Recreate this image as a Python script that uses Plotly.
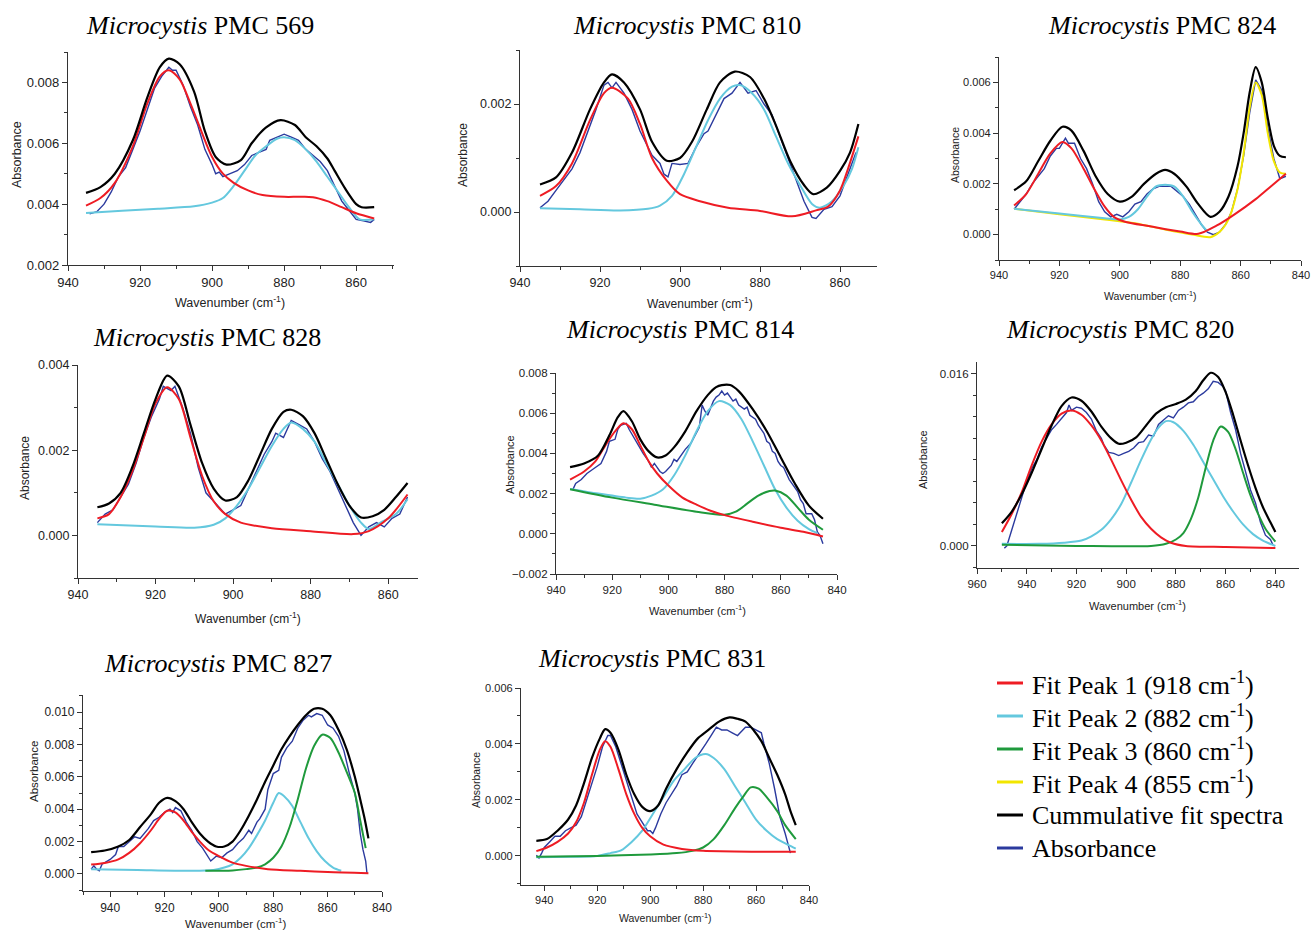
import plotly.graph_objects as go

W, H = 1312, 932

# ---------------- data: (wavenumber cm-1, absorbance) ----------------

# Microcystis PMC 569
pmc569_abs = [(934, 0.00368), (932, 0.00375), (930, 0.0040), (928, 0.0044), (926, 0.0049), (924, 0.0052),
              (922, 0.0058), (920, 0.0064), (918, 0.0071), (916, 0.0078), (914, 0.0082), (912, 0.0085),
              (911, 0.0084), (910, 0.0084), (908, 0.0079), (906, 0.0072), (904, 0.0066), (902, 0.0058),
              (900, 0.0053), (899, 0.0050), (898, 0.00505), (897, 0.0049), (895, 0.0050), (893, 0.0051),
              (891, 0.0053), (889, 0.0056), (887, 0.0057), (885, 0.0058), (884, 0.0061), (882, 0.0062),
              (880, 0.0063), (878, 0.0062), (876, 0.0061), (874, 0.0058), (872, 0.0056), (870, 0.0054),
              (868, 0.0051), (866, 0.0046), (864, 0.0041), (862, 0.0038), (860, 0.0035), (858, 0.00345),
              (856, 0.0034), (855, 0.0035)]
pmc569_peak1 = [(935, 0.00395), (931, 0.0042), (927, 0.0047), (922, 0.0059), (918, 0.0073), (914.5, 0.0082),
                (912, 0.0084), (909, 0.0081), (906, 0.0073), (903, 0.0064), (900, 0.00555), (897, 0.0050),
                (894, 0.0047), (890, 0.00445), (886, 0.0043), (880, 0.00424), (876, 0.00424), (872, 0.00423),
                (868, 0.0041), (864, 0.0039), (860, 0.0037), (855, 0.00353)]
pmc569_peak2 = [(935, 0.00371), (925, 0.00378), (915, 0.00385), (905, 0.00393), (900, 0.00405), (897, 0.0042),
                (894, 0.0046), (891, 0.0051), (888, 0.0056), (885, 0.0059), (882, 0.00615), (880, 0.0062),
                (877, 0.0061), (874, 0.0058), (871, 0.0054), (868, 0.0049), (865, 0.0044), (862, 0.0039),
                (859, 0.0035), (855, 0.0035)]
pmc569_cum = [(935, 0.00437), (931, 0.00456), (927, 0.0050), (922, 0.0061), (918, 0.0075), (914.5, 0.0085),
              (912, 0.00878), (909, 0.0086), (905, 0.0077), (902, 0.0064), (899, 0.00555), (896, 0.0053),
              (892, 0.00545), (889, 0.0060), (885, 0.00652), (881, 0.00676), (877, 0.0066), (874, 0.0062),
              (871, 0.0059), (868, 0.0055), (866, 0.0051), (863, 0.0045), (860, 0.0040), (858.5, 0.0039),
              (855, 0.0039)]

# Microcystis PMC 810
pmc810_abs = [(935, 0.00008), (933, 0.0002), (931, 0.0004), (929, 0.0006), (927, 0.0008), (925, 0.0011),
              (923, 0.0015), (921, 0.0019), (919, 0.00235), (918, 0.0024), (917, 0.0023), (916, 0.0024),
              (914, 0.0022), (912, 0.0019), (910, 0.0015), (908, 0.0012), (907, 0.00105), (905, 0.0009),
              (904, 0.0007), (903, 0.00065), (902, 0.0009), (900, 0.00088), (898, 0.0009), (896, 0.0012),
              (894, 0.00145), (893, 0.0015), (891, 0.0018), (889, 0.0021), (887, 0.0022), (885, 0.0024),
              (883, 0.0022), (881, 0.00225), (879, 0.0020), (877, 0.0018), (875, 0.0014), (873, 0.0010),
              (871, 0.0006), (869, 0.0002), (867, -0.0001), (866, -0.00012), (864, 0.00005), (862, 0.0001),
              (860, 0.0003), (858, 0.0007), (856, 0.0011)]
pmc810_peak1 = [(935, 0.0003), (931, 0.00048), (927, 0.0009), (922.5, 0.0017), (919, 0.0022), (917, 0.0023),
                (913, 0.0021), (910, 0.00163), (907, 0.0010), (903.3, 0.00058), (900, 0.00033), (895, 0.0002),
                (888, 0.00008), (880, 0.00002), (872, -0.00008), (866, 0.00003), (863, 0.0001), (860, 0.0004),
                (858, 0.0008), (855.4, 0.0014)]
pmc810_peak2 = [(935, 0.00007), (925, 0.00005), (915, 0.00003), (908, 0.00006), (905, 0.00012), (902, 0.0003),
                (899, 0.0007), (896, 0.0012), (893, 0.0017), (890, 0.0021), (887, 0.00232), (885, 0.00235),
                (882, 0.0022), (879, 0.0019), (876, 0.0014), (873, 0.0009), (870, 0.0005), (867, 0.00015),
                (865, 0.00008), (862, 0.0002), (859, 0.0005), (857, 0.0008), (855.4, 0.0012)]
pmc810_cum = [(935, 0.00051), (931, 0.00064), (927, 0.0011), (922.5, 0.0019), (919, 0.0024), (917, 0.00255),
              (914, 0.0024), (910, 0.0019), (907, 0.0013), (903.3, 0.00095), (900, 0.0010), (897, 0.0013),
              (893.3, 0.0019), (890, 0.0024), (886.3, 0.0026), (882.5, 0.0025), (879, 0.0021), (876, 0.0016),
              (872.5, 0.00095), (869, 0.0005), (866.7, 0.00033), (863.3, 0.00045), (860, 0.00076),
              (857.5, 0.0011), (855.4, 0.00163)]

# Microcystis PMC 824
pmc824_abs = [(935, 0.0010), (933, 0.0013), (931, 0.0016), (929, 0.0020), (927, 0.0023), (925, 0.0026),
              (923, 0.0031), (921, 0.0034), (920, 0.0034), (919, 0.0036), (918, 0.0038), (917, 0.0036),
              (915, 0.0036), (913, 0.0030), (911, 0.0026), (909, 0.0020), (907, 0.0013), (905, 0.0009),
              (903, 0.0007), (901, 0.0008), (899, 0.0007), (897, 0.0009), (895, 0.0012), (893, 0.0013),
              (891, 0.0016), (889, 0.0018), (887, 0.0019), (885, 0.0019), (883, 0.0019), (881, 0.0017),
              (879, 0.0015), (877, 0.0012), (875, 0.0008), (873, 0.0004), (871, 0.0001), (869, 0.0000),
              (867, 0.0001), (865, 0.0004), (863, 0.0009), (861, 0.0018), (859, 0.0031), (857, 0.0048),
              (855, 0.0061), (853, 0.0057), (851, 0.0042), (849, 0.0030), (847, 0.0022), (845, 0.0023)]
pmc824_peak1 = [(935, 0.00115), (931, 0.0016), (927, 0.0024), (923, 0.0032), (919, 0.00365), (916, 0.0034),
                (912, 0.0026), (908, 0.0017), (905, 0.0011), (902, 0.0007), (898, 0.0005), (890, 0.00033),
                (880, 0.00012), (874, 0.00003), (868, 0.00035), (862, 0.0008), (855, 0.0014), (850, 0.0019),
                (845, 0.0024)]
pmc824_peak2 = [(935, 0.00102), (920, 0.00083), (905, 0.00065), (900, 0.0006), (897, 0.0007), (894, 0.0010),
                (891, 0.0015), (888, 0.0019), (885, 0.00197), (882, 0.0019), (879, 0.0015), (876, 0.0009),
                (873, 0.0004), (871, 0.00012)]
pmc824_peak4 = [(935, 0.00102), (920, 0.0008), (905, 0.0006), (895, 0.00045), (885, 0.0002), (876, 0.0),
                (870, -0.0001), (867, 0.0001), (864, 0.0006), (861, 0.0018), (859, 0.0032), (857, 0.0050),
                (855, 0.0060), (853, 0.0055), (851, 0.0040), (849, 0.0029), (847, 0.00245), (845, 0.0024)]
pmc824_cum = [(935, 0.00175), (931, 0.0021), (927, 0.0029), (923, 0.0037), (919, 0.00425), (916, 0.0041),
              (912, 0.0033), (908, 0.0023), (904, 0.0016), (900, 0.0013), (896, 0.0015), (892, 0.0020),
              (888, 0.0024), (885, 0.00255), (882, 0.0024), (878, 0.0019), (874, 0.0012), (870, 0.0007),
              (867, 0.0009), (864, 0.0015), (861, 0.0027), (859, 0.0040), (857, 0.0056), (855, 0.0066),
              (853, 0.0060), (851, 0.0046), (849, 0.0035), (847, 0.0031), (845, 0.00305)]

# Microcystis PMC 828
pmc828_abs = [(935, 0.0003), (933, 0.0005), (931, 0.0006), (929, 0.0009), (927, 0.0012), (925, 0.0017),
              (923, 0.0023), (921, 0.0028), (919, 0.0032), (918, 0.0035), (916, 0.0034), (915, 0.0035),
              (913, 0.0030), (911, 0.0024), (909, 0.0016), (907, 0.0010), (905, 0.0008), (903, 0.0006),
              (902, 0.0005), (900, 0.0006), (898, 0.0007), (896, 0.0011), (894, 0.0015), (892, 0.0019),
              (890, 0.0022), (889, 0.0024), (887, 0.0023), (885, 0.0027), (883, 0.0026), (881, 0.0025),
              (879, 0.0022), (877, 0.0018), (875, 0.0015), (873, 0.0011), (871, 0.0007), (869, 0.0003),
              (867, 0.0000), (865, 0.0002), (863, 0.0003), (861, 0.0002), (859, 0.0004), (857, 0.0005),
              (855, 0.0009)]
pmc828_peak1 = [(935, 0.0004), (932, 0.0005), (929, 0.0009), (926, 0.0015), (923, 0.0023), (920, 0.0031),
                (917, 0.00348), (914, 0.0032), (911, 0.0023), (908, 0.0014), (905, 0.0008), (902, 0.0005),
                (898, 0.0003), (890, 0.00017), (880, 0.0001), (869, 0.00003), (865, 0.0001), (860, 0.0004),
                (855, 0.00096)]
pmc828_peak2 = [(935, 0.00026), (920, 0.00021), (910, 0.00018), (905, 0.00025), (902, 0.0004), (899, 0.0007),
                (896, 0.0011), (893, 0.0016), (890, 0.0021), (887, 0.0025), (885, 0.00265), (882, 0.0025),
                (879, 0.0022), (876, 0.0017), (873, 0.0012), (870, 0.0007), (867, 0.0003), (865, 0.00015),
                (862, 0.0003), (858, 0.0005), (855, 0.00085)]
pmc828_cum = [(935, 0.00066), (932, 0.00075), (929, 0.0010), (926, 0.0016), (923, 0.0024), (920, 0.0032),
              (917, 0.00375), (914, 0.0035), (911, 0.0026), (908, 0.0017), (905, 0.0011), (902, 0.00082),
              (899, 0.0009), (896, 0.0013), (893, 0.0019), (890, 0.0025), (887, 0.0029), (885, 0.00295),
              (882, 0.0028), (879, 0.0024), (876, 0.0018), (873, 0.0012), (870, 0.0007), (867, 0.00042),
              (864, 0.00045), (861, 0.0006), (858, 0.0009), (855, 0.00123)]

# Microcystis PMC 814
pmc814_abs = [(934, 0.0022), (933, 0.0025), (931, 0.0027), (929, 0.0030), (927, 0.0032), (925, 0.0034),
              (924, 0.0035), (922, 0.0041), (921, 0.0046), (919, 0.0047), (918, 0.0052), (917, 0.0054),
              (915, 0.0055), (914, 0.0052), (912, 0.0047), (911, 0.0045), (909, 0.0040), (907, 0.0036),
              (906, 0.0033), (905, 0.0035), (903, 0.0031), (902, 0.0030), (901, 0.0031), (899, 0.0034),
              (898, 0.0037), (897, 0.0036), (896, 0.0038), (894, 0.0042), (892, 0.0045), (890, 0.0050),
              (889, 0.0053), (888, 0.0064), (887, 0.0061), (886, 0.0059), (885, 0.0063), (884, 0.0066),
              (883, 0.0068), (882, 0.0069), (881, 0.0071), (880, 0.0069), (879, 0.0070), (878, 0.0068),
              (877, 0.0066), (876, 0.0067), (875, 0.0064), (873, 0.0062), (872, 0.0063), (871, 0.0059),
              (869, 0.0057), (868, 0.0054), (867, 0.0052), (866, 0.0050), (865, 0.0046), (864, 0.0045),
              (863, 0.0041), (862, 0.0040), (861, 0.0036), (860, 0.0034), (859, 0.0033), (858, 0.0030),
              (857, 0.0027), (856, 0.0025), (855, 0.0023), (854, 0.0021), (853, 0.0017), (852, 0.0015),
              (851, 0.0010), (849, 0.0010), (848, 0.0007), (847, 0.0001), (846, -0.0001), (845, -0.0005)]
pmc814_peak1 = [(935, 0.0027), (930, 0.0031), (926, 0.0036), (922, 0.0045), (919, 0.0051), (916, 0.0055),
                (913, 0.0052), (910, 0.0044), (907, 0.0036), (904, 0.0030), (900, 0.0024), (895, 0.0018),
                (890, 0.00145), (885, 0.00115), (880, 0.00093), (870, 0.0006), (860, 0.0003), (852, 0.0001),
                (845, -0.00013)]
pmc814_peak2 = [(935, 0.00223), (925, 0.0020), (915, 0.0018), (910, 0.00175), (906, 0.0019), (902, 0.0022),
                (898, 0.0029), (894, 0.0039), (890, 0.0051), (886, 0.0061), (882, 0.0066), (878, 0.0064),
                (874, 0.0057), (870, 0.0046), (866, 0.0034), (862, 0.0022), (858, 0.0013), (854, 0.00065),
                (850, 0.00023), (847, 0.00003)]
pmc814_peak3 = [(935, 0.00222), (920, 0.0018), (905, 0.00145), (890, 0.0011), (880, 0.00095), (876, 0.0011),
                (872, 0.0015), (868, 0.0019), (864, 0.00213), (862, 0.00215), (858, 0.0019), (854, 0.0013),
                (850, 0.0007), (845, 0.0002)]
pmc814_cum = [(935, 0.00332), (930, 0.0035), (925, 0.0039), (921, 0.0049), (918, 0.0058), (916, 0.0061),
              (913, 0.0056), (910, 0.0047), (907, 0.0041), (904, 0.0038), (901, 0.0039), (898, 0.0043),
              (894, 0.0051), (890, 0.0061), (886, 0.0069), (883, 0.0073), (881, 0.0074), (878, 0.0074),
              (875, 0.0071), (870, 0.0062), (865, 0.0051), (860, 0.0038), (855, 0.0025), (850, 0.0014),
              (845, 0.00075)]

# Microcystis PMC 820
pmc820_abs = [(949, -0.0002), (948, 0.0000), (946, 0.0015), (944, 0.0030), (942, 0.0045), (940, 0.0060),
              (938, 0.0072), (936, 0.0080), (934, 0.0092), (932, 0.0100), (930, 0.0108), (928, 0.0113),
              (926, 0.0118), (924, 0.0124), (923, 0.0131), (922, 0.0126), (920, 0.0129), (918, 0.0128),
              (916, 0.0124), (914, 0.0118), (912, 0.0107), (910, 0.0100), (909, 0.0094), (907, 0.0087),
              (905, 0.0086), (903, 0.0084), (901, 0.0086), (899, 0.0088), (897, 0.0091), (895, 0.0096),
              (893, 0.0097), (891, 0.0103), (889, 0.0102), (887, 0.0113), (885, 0.0117), (883, 0.0121),
              (881, 0.0119), (879, 0.0126), (877, 0.0129), (875, 0.0133), (873, 0.0134), (871, 0.0139),
              (869, 0.0142), (867, 0.0146), (865, 0.0153), (863, 0.0152), (861, 0.0148), (860, 0.0144),
              (858, 0.0124), (856, 0.0108), (854, 0.0086), (852, 0.0068), (850, 0.0052), (848, 0.0040),
              (846, 0.0022), (844, 0.0010), (842, 0.0006), (841, 0.0001)]
pmc820_peak1 = [(950, 0.0013), (946, 0.0030), (942, 0.0050), (938, 0.0075), (934, 0.0097), (930, 0.0113),
                (926, 0.0123), (922, 0.0126), (918, 0.0122), (914, 0.0112), (910, 0.0098), (906, 0.0080),
                (902, 0.0061), (898, 0.0043), (894, 0.0027), (890, 0.0016), (886, 0.0008), (882, 0.0003),
                (876, 0.0000), (860, -0.0001), (840, -0.0002)]
pmc820_peak2 = [(950, 0.0002), (935, 0.0002), (925, 0.0003), (918, 0.0005), (914, 0.0009), (910, 0.0015),
                (906, 0.0025), (902, 0.0039), (898, 0.0059), (894, 0.0080), (890, 0.0099), (887, 0.0110),
                (884, 0.0116), (881, 0.0115), (877, 0.0107), (873, 0.0094), (869, 0.0078), (865, 0.0062),
                (861, 0.0046), (857, 0.0032), (853, 0.0020), (849, 0.0011), (845, 0.0005), (840, 0.0000)]
pmc820_peak3 = [(950, 0.0001), (920, 0.0000), (890, 0.0000), (884, 0.0002), (880, 0.0006), (877, 0.0012),
                (874, 0.0025), (871, 0.0045), (868, 0.0073), (865, 0.0098), (862, 0.0111), (859, 0.0106),
                (856, 0.0090), (853, 0.0068), (850, 0.0047), (847, 0.0030), (844, 0.0016), (840, 0.0004)]
pmc820_cum = [(950, 0.0021), (946, 0.0032), (942, 0.0048), (938, 0.0068), (934, 0.0090), (930, 0.0112),
              (926, 0.0130), (922, 0.0138), (918, 0.0135), (914, 0.0125), (910, 0.0111), (906, 0.0100),
              (903, 0.0095), (900, 0.0096), (896, 0.0101), (892, 0.0112), (888, 0.0123), (884, 0.0129),
              (880, 0.0132), (876, 0.0136), (872, 0.0144), (869, 0.0154), (866, 0.0161), (863, 0.0157),
              (860, 0.0143), (857, 0.0122), (854, 0.0098), (851, 0.0075), (848, 0.0054), (845, 0.0036),
              (842, 0.0022), (840, 0.0013)]

# Microcystis PMC 827
pmc827_abs = [(947, 0.0003), (946, 0.0005), (945, 0.0003), (944, 0.0002), (943, 0.0006), (941, 0.0008),
              (940, 0.0009), (938, 0.0012), (937, 0.0017), (935, 0.0017), (933, 0.0020), (931, 0.0023),
              (929, 0.0022), (928, 0.0024), (926, 0.0028), (924, 0.0033), (922, 0.0035), (920, 0.0038),
              (918, 0.0040), (917, 0.0038), (916, 0.0041), (914, 0.0039), (912, 0.0032), (910, 0.0027),
              (908, 0.0020), (906, 0.0016), (904, 0.0011), (903, 0.0008), (901, 0.0011), (899, 0.0010),
              (897, 0.0013), (895, 0.0015), (893, 0.0019), (891, 0.0022), (889, 0.0027), (888, 0.0025),
              (886, 0.0032), (885, 0.0034), (883, 0.0040), (882, 0.0052), (880, 0.0062), (878, 0.0064),
              (877, 0.0072), (875, 0.0078), (873, 0.0082), (871, 0.0090), (869, 0.0095), (867, 0.0098),
              (866, 0.0097), (864, 0.0099), (862, 0.0098), (860, 0.0092), (858, 0.0090), (856, 0.0085),
              (854, 0.0076), (852, 0.0062), (850, 0.0050), (849, 0.0040), (848, 0.0025), (847, 0.0015),
              (846, 0.0008), (845.5, 0.0000)]
pmc827_peak1 = [(947, 0.00058), (942, 0.00068), (937, 0.0009), (933, 0.0013), (929, 0.0019), (925, 0.0027),
                (922, 0.0034), (919, 0.0039), (916, 0.0038), (913, 0.0033), (910, 0.0026), (907, 0.0020),
                (904, 0.0015), (900, 0.0011), (895, 0.0007), (890, 0.0005), (882, 0.0003), (870, 0.0002),
                (860, 0.00012), (845, 0.00005)]
pmc827_peak2 = [(947, 0.0003), (930, 0.00025), (910, 0.0002), (902, 0.00025), (898, 0.0004), (895, 0.0006),
                (892, 0.0010), (889, 0.0016), (886, 0.0024), (883, 0.0033), (880, 0.0044), (878, 0.0050),
                (876, 0.0048), (873, 0.0042), (870, 0.0032), (867, 0.0022), (864, 0.0014), (861, 0.0008),
                (858, 0.0004), (855, 0.0002)]
pmc827_peak3 = [(905, 0.0002), (895, 0.00022), (890, 0.0003), (886, 0.0004), (883, 0.0006), (880, 0.0010),
                (877, 0.0017), (874, 0.0029), (871, 0.0046), (868, 0.0065), (865, 0.0079), (862, 0.0086),
                (859, 0.0084), (856, 0.0075), (853, 0.0063), (850, 0.0050), (848, 0.0033), (846, 0.0016)]
pmc827_cum = [(947, 0.00135), (942, 0.00145), (937, 0.0017), (933, 0.0021), (929, 0.0029), (925, 0.0037),
              (922, 0.0044), (919, 0.0047), (916, 0.0045), (913, 0.0040), (910, 0.0032), (907, 0.0025),
              (904, 0.0020), (901, 0.0017), (898, 0.0017), (895, 0.0020), (892, 0.0027), (889, 0.0036),
              (886, 0.0046), (883, 0.0057), (880, 0.0067), (877, 0.0077), (874, 0.0085), (871, 0.0092),
              (868, 0.0098), (865, 0.0102), (862, 0.0102), (859, 0.0098), (856, 0.0089), (853, 0.0077),
              (850, 0.0060), (848, 0.0046), (846.5, 0.0035), (845, 0.0022)]

# Microcystis PMC 831
pmc831_abs = [(943, 0.00002), (942, -0.00008), (941, 0.0001), (940, 0.0003), (938, 0.0005), (936, 0.0007),
              (934, 0.0007), (932, 0.0009), (930, 0.0010), (928, 0.0011), (926, 0.0014), (924, 0.0020),
              (922, 0.0026), (920, 0.0032), (918, 0.0039), (917, 0.0041), (916, 0.0043), (915, 0.0043),
              (913, 0.0039), (911, 0.0033), (909, 0.0027), (907, 0.0021), (905, 0.0015), (903, 0.0012),
              (901, 0.0009), (900, 0.0009), (899, 0.0008), (898, 0.0010), (896, 0.0015), (894, 0.0019),
              (892, 0.0022), (890, 0.0025), (888, 0.0029), (886, 0.0030), (884, 0.0033), (882, 0.0036),
              (881, 0.0037), (879, 0.0040), (877, 0.0043), (875, 0.0046), (873, 0.0045), (871, 0.0045),
              (869, 0.0044), (867, 0.0043), (866, 0.0044), (864, 0.0046), (862, 0.0046), (860, 0.0045),
              (858, 0.0044), (857, 0.0040), (855, 0.0033), (853, 0.0024), (851, 0.0014), (849, 0.0008),
              (847, 0.0001)]
pmc831_peak1 = [(943, 0.00017), (939, 0.0003), (935, 0.0005), (931, 0.0008), (928, 0.0012), (925, 0.0019),
                (922, 0.0029), (919, 0.0038), (917, 0.0041), (915, 0.0039), (912, 0.0031), (909, 0.0022),
                (906, 0.0015), (903, 0.0010), (900, 0.0007), (895, 0.0004), (888, 0.00025), (880, 0.00018),
                (860, 0.00015), (845, 0.00015)]
pmc831_peak2 = [(943, -0.00005), (930, -0.00003), (920, 0.0), (915, 0.0001), (911, 0.0002), (907, 0.0005),
                (903, 0.0009), (899, 0.0015), (895, 0.0021), (891, 0.0027), (887, 0.0031), (883, 0.0035),
                (879, 0.00364), (876, 0.0035), (872, 0.0031), (868, 0.0025), (864, 0.0019), (860, 0.0013),
                (856, 0.0009), (852, 0.0006), (848, 0.0004), (845, 0.00026)]
pmc831_peak3 = [(943, -0.00003), (920, 0.0), (900, 0.00005), (890, 0.0001), (884, 0.00018), (880, 0.0003),
                (876, 0.0006), (872, 0.0011), (868, 0.0017), (865, 0.0021), (862, 0.00245), (859, 0.0024),
                (856, 0.0021), (852, 0.0016), (849, 0.0011), (845, 0.0006)]
pmc831_cum = [(943, 0.00054), (939, 0.0006), (935, 0.0009), (931, 0.0013), (928, 0.0018), (925, 0.0026),
              (922, 0.0035), (919, 0.0042), (917, 0.00453), (915, 0.0044), (912, 0.0038), (909, 0.0029),
              (906, 0.0022), (903, 0.00175), (900, 0.0016), (897, 0.0018), (894, 0.0024), (890, 0.0031),
              (886, 0.0037), (882, 0.0042), (878, 0.0045), (874, 0.0048), (870, 0.00495), (867, 0.0049),
              (864, 0.0048), (861, 0.0045), (858, 0.0041), (855, 0.0035), (852, 0.0029), (849, 0.0022),
              (847, 0.0016), (845, 0.0011)]

# ---------------- styles ----------------
STYLE = {
    "p1": dict(color="#ee1c24", width=2.0, name="Fit Peak 1 (918 cm<sup>-1</sup>)"),
    "p2": dict(color="#64c8de", width=2.0, name="Fit Peak 2 (882 cm<sup>-1</sup>)"),
    "p3": dict(color="#1f9a3c", width=2.0, name="Fit Peak 3 (860 cm<sup>-1</sup>)"),
    "p4": dict(color="#f2e600", width=2.0, name="Fit Peak 4 (855 cm<sup>-1</sup>)"),
    "cum": dict(color="#000000", width=2.2, name="Cummulative fit spectra"),
    "abs": dict(color="#2b3a9e", width=1.4, name="Absorbance"),
}
LEGEND_ORDER = ["p1", "p2", "p3", "p4", "cum", "abs"]

# panel layout in screen pixels: x0, x1 (axis), y top, y bottom
panels = [
    dict(title="PMC 569", series=[("abs", pmc569_abs), ("p2", pmc569_peak2), ("p1", pmc569_peak1), ("cum", pmc569_cum)],
         box=(68, 394, 52, 265), xr=[940, 849.5], yr=[0.002, 0.009], ydt=0.002, yminor=0.001, fs=13,
         tpos=(200, 25), xtpos=(230, 302), ytpos=(17, 155)),
    dict(title="PMC 810", series=[("abs", pmc810_abs), ("p2", pmc810_peak2), ("p1", pmc810_peak1), ("cum", pmc810_cum)],
         box=(520, 877, 50, 266), xr=[940, 850.75], yr=[-0.001, 0.003], ydt=0.002, yminor=0.001, fs=12.5,
         tpos=(687, 25), xtpos=(700, 303), ytpos=(463, 155)),
    dict(title="PMC 824", series=[("abs", pmc824_abs), ("p4", pmc824_peak4), ("p2", pmc824_peak2), ("p1", pmc824_peak1), ("cum", pmc824_cum)],
         box=(999, 1301, 57, 260), xr=[940, 840], yr=[-0.001, 0.007], ydt=0.002, yminor=0.001, fs=11,
         tpos=(1162, 25), xtpos=(1150, 295), ytpos=(955, 155)),
    dict(title="PMC 828", series=[("abs", pmc828_abs), ("p2", pmc828_peak2), ("p1", pmc828_peak1), ("cum", pmc828_cum)],
         box=(78, 418, 365, 578), xr=[940, 852.3], yr=[-0.001, 0.004], ydt=0.002, yminor=0.001, fs=12.5,
         tpos=(207, 337), xtpos=(248, 618), ytpos=(25, 468)),
    dict(title="PMC 814", series=[("abs", pmc814_abs), ("p2", pmc814_peak2), ("p3", pmc814_peak3), ("p1", pmc814_peak1), ("cum", pmc814_cum)],
         box=(556, 837, 373, 574), xr=[940, 840], yr=[-0.002, 0.008], ydt=0.002, yminor=0.001, fs=11.5,
         tpos=(680, 330), xtpos=(697, 610), ytpos=(510, 465)),
    dict(title="PMC 820", series=[("abs", pmc820_abs), ("p2", pmc820_peak2), ("p3", pmc820_peak3), ("p1", pmc820_peak1), ("cum", pmc820_cum)],
         box=(977, 1299, 362, 568), xr=[960, 830.5], yr=[-0.00205, 0.0171], ydt=0.016, yminor=0.002, fs=11.5,
         tpos=(1120, 329), xtpos=(1137, 605), ytpos=(923, 460)),
    dict(title="PMC 827", series=[("abs", pmc827_abs), ("p2", pmc827_peak2), ("p3", pmc827_peak3), ("p1", pmc827_peak1), ("cum", pmc827_cum)],
         box=(83, 382, 695, 891), xr=[950, 840], yr=[-0.00105, 0.01105], ydt=0.002, yminor=0.001, fs=12,
         tpos=(218, 663), xtpos=(235, 923), ytpos=(34, 772)),
    dict(title="PMC 831", series=[("abs", pmc831_abs), ("p2", pmc831_peak2), ("p3", pmc831_peak3), ("p1", pmc831_peak1), ("cum", pmc831_cum)],
         box=(521, 809, 688, 885), xr=[948.8, 840], yr=[-0.00104, 0.006], ydt=0.002, yminor=0.001, fs=11,
         tpos=(652, 658), xtpos=(665, 917), ytpos=(476, 780)),
]

# key block (bottom right): first row centre and row step, in screen pixels
LEGEND_X0, LEGEND_X1, LEGEND_TEXT_X = 997, 1023, 1030
LEGEND_Y0, LEGEND_STEP = 683, 33


def fx(px):
    return px / W


def fy(py):
    return 1 - py / H


fig = go.Figure()
annotations = []
shapes = []
axis_line = "#333333"
tick_color = "#222222"

for i, p in enumerate(panels, start=1):
    xa = "x" if i == 1 else f"x{i}"
    ya = "y" if i == 1 else f"y{i}"
    for key, pts in p["series"]:
        st = STYLE[key]
        wn = [a for a, _ in pts]
        ab = [b for _, b in pts]
        fig.add_trace(go.Scatter(
            x=wn, y=ab, xaxis=xa, yaxis=ya, mode="lines",
            line=dict(color=st["color"], width=st["width"],
                      shape="linear" if key == "abs" else "spline", smoothing=0.8),
            name=st["name"], showlegend=False, hoverinfo="skip"))

    x0, x1, yt, yb = p["box"]
    common = dict(showline=True, linecolor=axis_line, linewidth=1.3, ticks="outside", ticklen=5,
                  tickwidth=1.2, tickcolor=axis_line, showgrid=False, zeroline=False, automargin=False,
                  tickfont=dict(family="Liberation Sans", size=p["fs"], color=tick_color))
    fig.layout[f"xaxis{'' if i == 1 else i}"] = dict(
        domain=[fx(x0), fx(x1)], range=p["xr"], anchor=ya, dtick=20, tick0=0,
        minor=dict(ticks="outside", ticklen=3, dtick=10, tickcolor=axis_line), **common)
    fig.layout[f"yaxis{'' if i == 1 else i}"] = dict(
        domain=[fy(yb), fy(yt)], range=p["yr"], anchor=xa, dtick=p["ydt"], tick0=0, tickformat=".3f",
        minor=dict(ticks="outside", ticklen=3, dtick=p["yminor"], tickcolor=axis_line), **common)

    tx, ty = p["tpos"]
    annotations.append(dict(text=f"<i>Microcystis</i> {p['title']}", x=fx(tx), y=fy(ty), xref="paper",
                            yref="paper", showarrow=False, xanchor="center", yanchor="middle",
                            font=dict(family="Liberation Serif", size=26, color="black")))
    ax, ay = p["xtpos"]
    annotations.append(dict(text="Wavenumber (cm<sup>-1</sup>)", x=fx(ax), y=fy(ay), xref="paper",
                            yref="paper", showarrow=False, xanchor="center", yanchor="middle",
                            font=dict(family="Liberation Sans", size=p["fs"] - 0.5, color=tick_color)))
    bx, by = p["ytpos"]
    annotations.append(dict(text="Absorbance", x=fx(bx), y=fy(by), xref="paper", yref="paper",
                            showarrow=False, textangle=-90, xanchor="center", yanchor="middle",
                            font=dict(family="Liberation Sans", size=p["fs"] - 0.5, color=tick_color)))

# shared key
for k, key in enumerate(LEGEND_ORDER):
    st = STYLE[key]
    row_y = LEGEND_Y0 + k * LEGEND_STEP
    shapes.append(dict(type="line", xref="paper", yref="paper", x0=fx(LEGEND_X0), x1=fx(LEGEND_X1),
                       y0=fy(row_y), y1=fy(row_y), line=dict(color=st["color"], width=3)))
    annotations.append(dict(text=st["name"], x=fx(LEGEND_TEXT_X), y=fy(row_y), xref="paper", yref="paper",
                            showarrow=False, xanchor="left", yanchor="middle",
                            font=dict(family="Liberation Serif", size=26, color="black")))

fig.update_layout(
    width=W, height=H,
    margin=dict(l=0, r=0, t=0, b=0),
    paper_bgcolor="white", plot_bgcolor="white",
    annotations=annotations,
    shapes=shapes,
    showlegend=False,
    hovermode=False,
)

fig.write_html("out.html", config={"displayModeBar": False},
               post_script="document.body.style.margin='0';document.body.style.overflow='hidden';")
